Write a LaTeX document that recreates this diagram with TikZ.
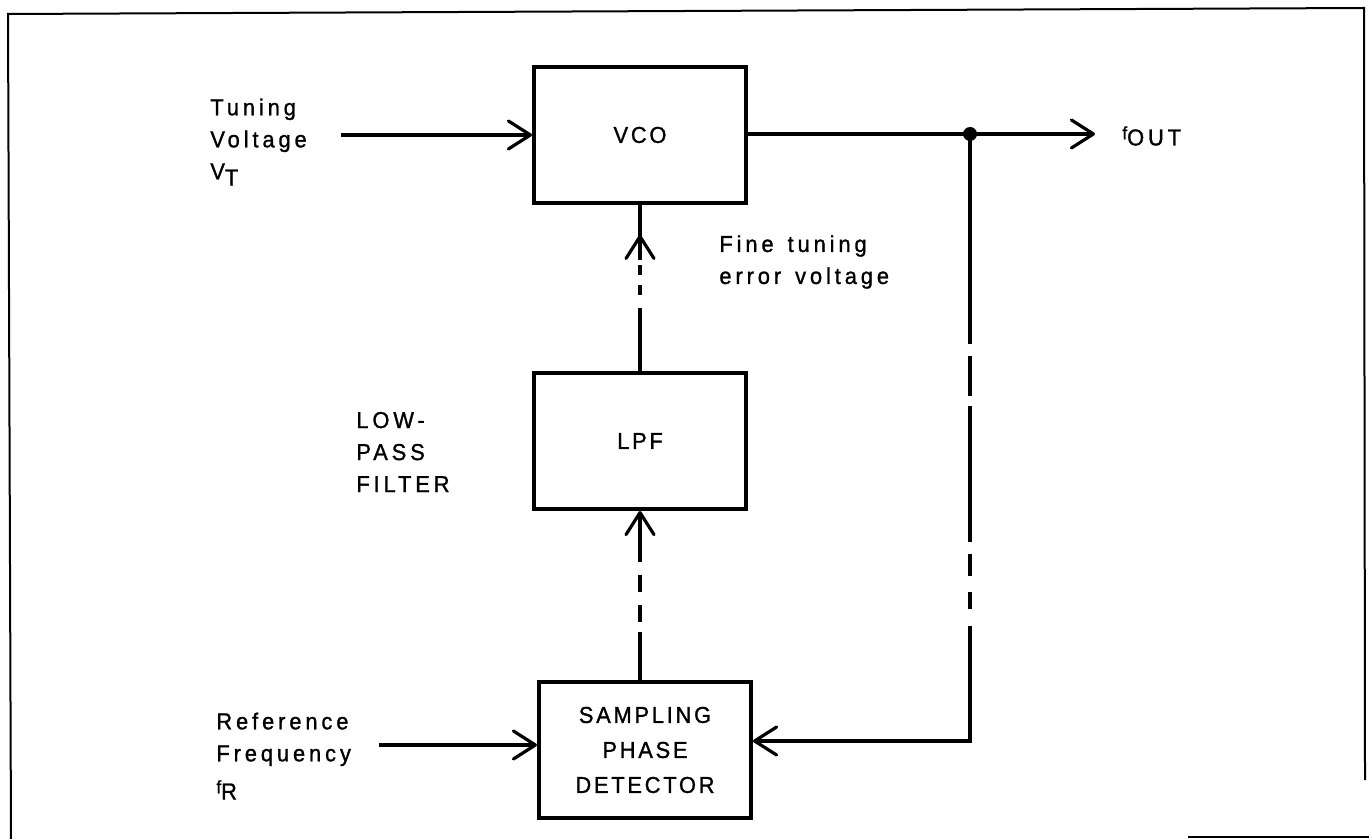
\documentclass[tikz,border=0pt]{standalone}
\usepackage{fontspec}
\setmainfont{Liberation Sans}
\newfontfamily\boxlettering[LetterSpace=12,FakeStretch=0.95,FakeBold=1.2]{Liberation Sans}
\newfontfamily\labellettering[LetterSpace=17,WordSpace=1.4,FakeStretch=0.95,FakeBold=1.2]{Liberation Sans}
\usetikzlibrary{arrows.meta}
\usetikzlibrary{decorations.markings}
\newcommand{\lowered}[1]{\raisebox{-0.5ex}{#1}}
\newcommand{\freqf}{{\small f}}

\begin{document}
\begin{tikzpicture}[x=0.5pt,y=-0.5pt]
\tikzstyle{every node}=[font=\labellettering\fontsize{11.5}{16}\selectfont]
\tikzstyle{block}=[draw,line width=2pt,minimum width=106pt,minimum height=68pt,align=center,
  font=\boxlettering\fontsize{11.5}{17.5}\selectfont]
\tikzstyle{label}=[align=left,anchor=west,inner sep=0pt]
\tikzstyle{wire}=[line width=1.6pt]
\tikzstyle{barb}=[-{Straight Barb[round,length=11pt,width=14pt]}]
\useasboundingbox (0,0) rectangle (1369,839);
\draw[line width=1pt] (11,839) -- (8,14) -- (1364,8) -- (1365,780);
\draw[line width=1pt] (1188,837) -- (1369,837);
\node[block] (vco) at (640,135) {VCO};
\node[block] (lpf) at (640,441) {LPF};
\node[block] (spd) at (645,750) {SAMPLING\\PHASE\\DETECTOR};
\node[label] (tuning) at (210,142) {Tuning\\Voltage\\V\lowered{T}};
\node[label] (finetune) at (719,262) {Fine tuning\\error voltage};
\node[label] (lowpass) at (356,452) {LOW-\\PASS\\FILTER};
\node[label] (reffreq) at (216,756) {Reference\\Frequency\\\freqf\lowered{R}};
\node[label] (fout) at (1122,136) {\freqf\lowered{OUT}};
\coordinate (vtin) at (341,135);
\coordinate (frin) at (379,745);
\coordinate (tap) at (970,134);
\coordinate (outend) at (1095,134);
\coordinate (bend) at (970,741);
\draw[wire,barb] (vtin) -- (vco.west);
\draw[wire,barb] (frin) -- (frin -| spd.west);
\draw[wire,barb] (vco.east |- tap) -- (outend);
\fill (tap) circle (7);
\draw[wire,dash pattern=on 24pt off 5pt on 8.5pt off 6.5pt on 8.5pt off 6.5pt on 40pt,barb]
  (spd.north -| lpf.south) -- (lpf.south);
\draw[wire,dash pattern=on 31.5pt off 6.5pt on 5pt off 5pt on 5pt off 2.5pt on 60pt,
  postaction={decorate},
  decoration={markings,mark=at position 0.82 with {\arrow{Straight Barb[round,length=11pt,width=14pt]}}}]
  (lpf.north) -- (vco.south);
\draw[wire,dash pattern=on 105pt off 6pt on 20pt off 5pt on 68pt off 6pt on 11pt off 8pt on 8.5pt off 8.5pt on 200pt,barb]
  (tap) -- (bend) -- (bend -| spd.east);
\end{tikzpicture}
\end{document}
